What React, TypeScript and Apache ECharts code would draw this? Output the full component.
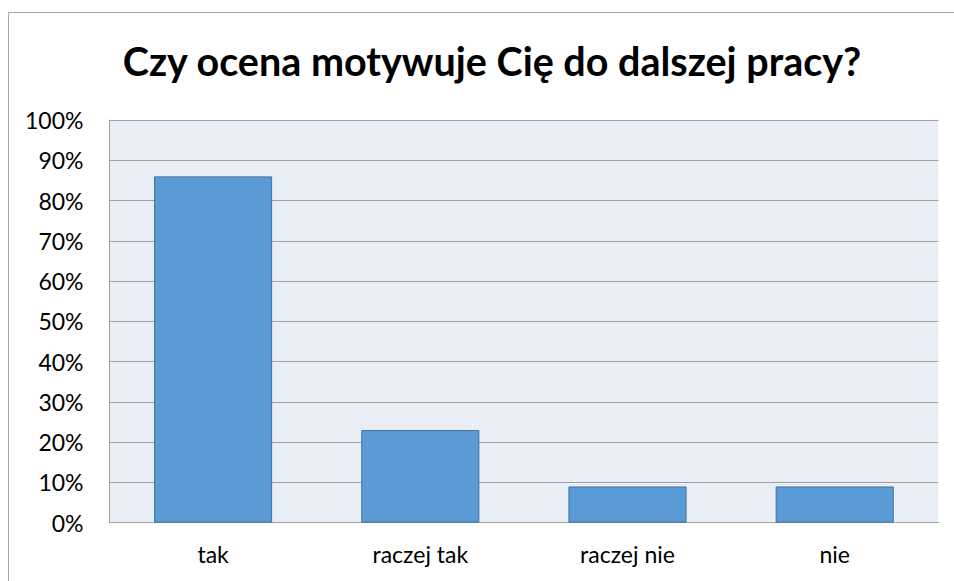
import React, { useEffect, useRef } from "react";
import * as echarts from "echarts";

const categories = ["tak", "raczej tak", "raczej nie", "nie"];
const values = [86, 23, 9, 9];
const titleText = "Czy ocena motywuje Cię do dalszej pracy?";

export default function App() {
  const ref = useRef<HTMLDivElement>(null);
  useEffect(() => {
    document.body.style.margin = "0";
    const chart = echarts.init(ref.current!, null, { renderer: "svg" });
    chart.setOption({
      animation: false,
      backgroundColor: "#ffffff",
      title: {
        text: titleText,
        left: 487,
        textAlign: "center",
        top: 35,
        textStyle: {
          fontFamily: "Lato",
          fontWeight: "bold",
          fontSize: 39.5,
          color: "#000000",
        },
      },
      graphic: [
        {
          type: "rect",
          shape: { x: 8.5, y: 12.5, width: 1000, height: 700 },
          style: { fill: "none", stroke: "#A6A6A6", lineWidth: 1 },
          silent: true,
        },
      ],
      grid: {
        left: 109.5,
        top: 120,
        right: 15.7,
        bottom: 58.3,
        show: true,
        backgroundColor: "#E9EDF6",
        borderWidth: 0,
      },
      xAxis: {
        type: "category",
        data: categories,
        axisTick: { show: false },
        axisLine: { show: true, lineStyle: { color: "#A0A0A0", width: 1 } },
        axisLabel: {
          fontFamily: "Lato",
          fontSize: 23,
          color: "#000000",
          margin: 20,
        },
      },
      yAxis: {
        type: "value",
        min: 0,
        max: 100,
        interval: 10,
        axisLine: { show: true, lineStyle: { color: "#A0A0A0", width: 1 } },
        axisTick: { show: false },
        splitLine: { show: true, lineStyle: { color: "#A0A0A0", width: 1 } },
        axisLabel: {
          fontFamily: "Lato",
          fontSize: 23,
          color: "#000000",
          margin: 26,
          formatter: (v: number) => v + "%",
        },
      },
      series: [
        {
          type: "bar",
          data: values,
          barWidth: "57%",
          itemStyle: {
            color: "#5B9BD5",
            borderColor: "#41719C",
            borderWidth: 1,
          },
        },
      ],
    });
    return () => chart.dispose();
  }, []);
  return <div ref={ref} style={{ width: 954, height: 581 }} />;
}
